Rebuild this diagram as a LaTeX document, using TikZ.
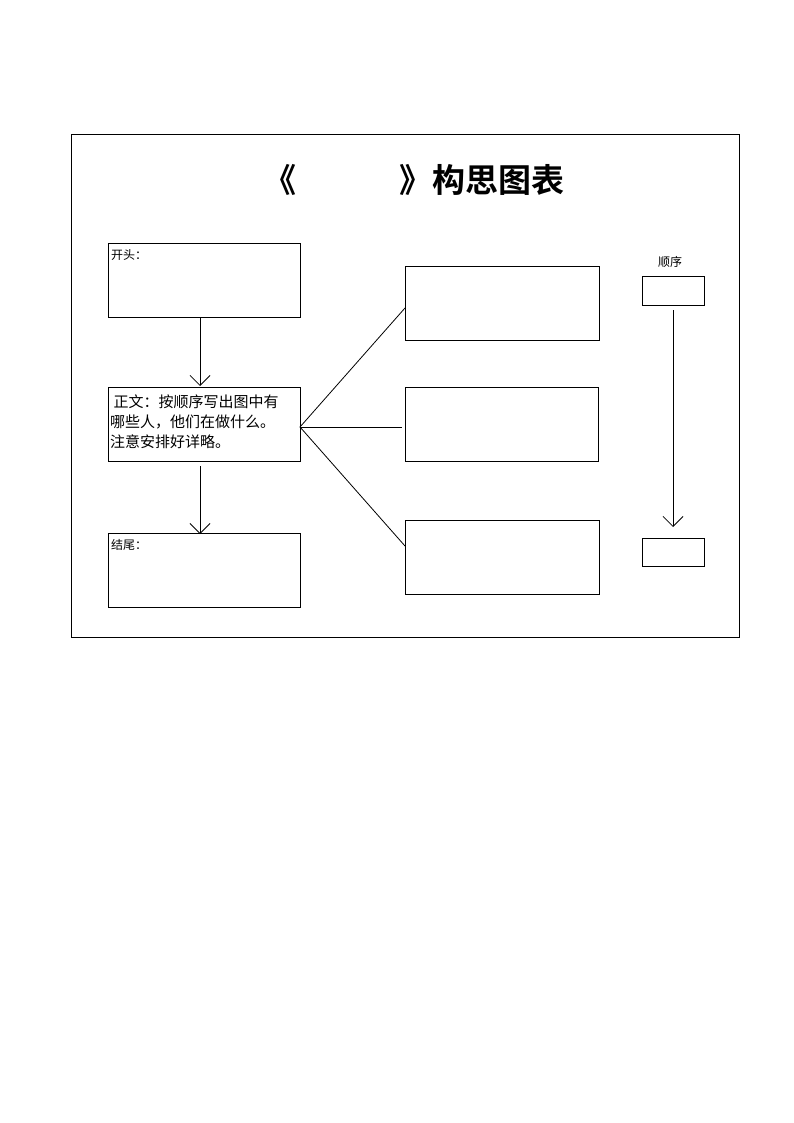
\documentclass[tikz,border=0pt]{standalone}
\usepackage{fontspec}
\newfontfamily\cjk{Noto Sans CJK SC}
\newfontfamily\cjkb{Noto Sans CJK SC Bold}
\usetikzlibrary{arrows.meta}
\begin{document}
\begin{tikzpicture}[x=1pt,y=-1pt,
  bx/.style={draw,line width=0.9pt},
  ln/.style={line width=0.8pt},
  arr/.style={ln,-{Straight Barb[length=10pt,width=20pt,line width=0.8pt]}},
  lbl/.style={font=\cjk\fontsize{12}{14}\selectfont,anchor=north west,inner sep=0pt}]
\useasboundingbox (0,0) rectangle (794,1123);
\draw[line width=0.9pt] (71,134) rectangle (739,637);
\node[font=\cjkb\fontsize{33}{40}\selectfont,inner sep=0pt] (title) at (414,180) {《\hspace{3.1em}》构思图表};
\draw[bx] (108,243) rectangle (300,317);
\coordinate (b1) at (200,317);
\node[lbl] (t1) at (111,249) {开头：};
\draw[bx] (108,387) rectangle (300,461);
\coordinate (b2t) at (200,386); \coordinate (b2b) at (200,466); \coordinate (b2r) at (300,427);
\node[font=\cjk\fontsize{15}{20}\selectfont,align=left,anchor=north west,inner sep=0pt] (t2) at (110,395) {\ 正文：按顺序写出图中有\\哪些人，他们在做什么。\\注意安排好详略。};
\draw[bx] (108,533) rectangle (300,607);
\coordinate (b3) at (200,534);
\node[lbl] (t3) at (111,539) {结尾：};
\draw[bx] (405,266) rectangle (599,340);
\draw[bx] (405,387) rectangle (598,461);
\draw[bx] (405,520) rectangle (599,594);
\coordinate (ra) at (405,308); \coordinate (rb) at (402,427); \coordinate (rc) at (405,546);
\draw[bx] (642,276) rectangle (704,305);
\draw[bx] (642,538) rectangle (704,566);
\node[font=\cjk\fontsize{12}{14}\selectfont] (t4) at (670,262) {顺序};
\coordinate (s1) at (673,310); \coordinate (s2) at (673,527);
\draw[arr] (b1) -- (b2t);
\draw[arr] (b2b) -- (b3);
\draw[ln] (ra) -- (b2r) -- (rc);
\draw[ln] (b2r) -- (rb);
\draw[arr] (s1) -- (s2);
\end{tikzpicture}
\end{document}
